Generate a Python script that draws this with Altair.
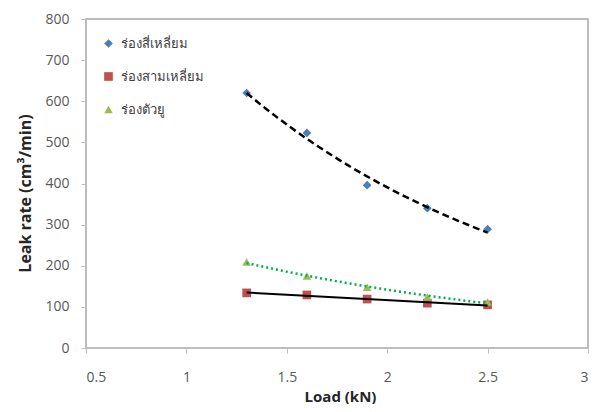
import altair as alt
import pandas as pd

load = [1.3, 1.6, 1.9, 2.2, 2.5]
series_names = ["ร่องสี่เหลี่ยม", "ร่องสามเหลี่ยม", "ร่องตัวยู"]
square_groove = [620, 523, 396, 340, 289]
triangle_groove = [134, 129, 119, 109, 105]
u_groove = [209, 175, 148, 124, 112]

colors = ["#4A7EBB", "#C0504D", "#9BBB59"]
shapes = ["diamond", "square", "triangle-up"]

rows = []
for name, vals in zip(series_names, [square_groove, triangle_groove, u_groove]):
    for x, y in zip(load, vals):
        rows.append({"load": x, "rate": y, "series": name})
df = pd.DataFrame(rows)

FONT = "Open Sans"

x_enc = alt.X("load:Q",
              scale=alt.Scale(domain=[0.5, 3], nice=False, zero=False),
              axis=alt.Axis(values=[0.5, 1, 1.5, 2, 2.5, 3], format="~g", grid=False,
                            title="Load (kN)", domainColor="#BFBFBF", tickColor="#BFBFBF",
                            tickSize=5, labelPadding=17, labelFontSize=14,
                            labelColor="#595959", labelFont=FONT,
                            titleFont=FONT, titleFontSize=15, titleFontWeight="bold",
                            titleColor="#262626", titleX=254, titleY=48,
                            titleBaseline="middle", titleAlign="center"))
y_enc = alt.Y("rate:Q",
              scale=alt.Scale(domain=[0, 800], nice=False),
              axis=alt.Axis(values=[0, 100, 200, 300, 400, 500, 600, 700, 800], grid=False,
                            title="Leak rate (cm³/min)", domainColor="#BFBFBF", tickColor="#BFBFBF",
                            tickSize=5, labelPadding=12, labelFontSize=14,
                            labelColor="#595959", labelFont=FONT,
                            titleFont=FONT, titleFontSize=16, titleFontWeight="bold",
                            titleColor="#262626", titleX=-61, titleY=174, titleAngle=270,
                            titleBaseline="middle", titleAlign="center"))

points = alt.Chart(df).mark_point(filled=True, opacity=1, size=75).encode(
    x=x_enc,
    y=y_enc,
    color=alt.Color("series:N", sort=series_names,
                    scale=alt.Scale(domain=series_names, range=colors),
                    legend=alt.Legend(title=None, orient="none", legendX=16, legendY=18,
                                      labelFont=FONT, labelFontSize=13, labelColor="#404040",
                                      rowPadding=19, symbolSize=75, labelOffset=6,
                                      padding=0)),
    shape=alt.Shape("series:N", sort=series_names,
                    scale=alt.Scale(domain=series_names, range=shapes)),
)

base = alt.Chart(df)
trend_sq = base.transform_filter(alt.datum.series == series_names[0]).transform_regression(
    "load", "rate", method="exp").mark_line(color="black", strokeDash=[7, 4], strokeWidth=2.5).encode(
    x="load:Q", y="rate:Q")
trend_u = base.transform_filter(alt.datum.series == series_names[2]).transform_regression(
    "load", "rate", method="exp").mark_line(color="#00B050", strokeDash=[2, 3], strokeWidth=2.5).encode(
    x="load:Q", y="rate:Q")
trend_tri = base.transform_filter(alt.datum.series == series_names[1]).transform_regression(
    "load", "rate", method="linear").mark_line(color="black", strokeWidth=2).encode(
    x="load:Q", y="rate:Q")

chart = alt.layer(points, trend_sq, trend_u, trend_tri).properties(
    width=502, height=329,
    autosize=alt.AutoSizeParams(type="none"),
    padding={"left": 78, "top": 11, "right": 1, "bottom": 56},
).configure_view(stroke="#A6A6A6", strokeWidth=1.5)

chart.save("out.html", embed_options={"renderer": "svg", "actions": False})
